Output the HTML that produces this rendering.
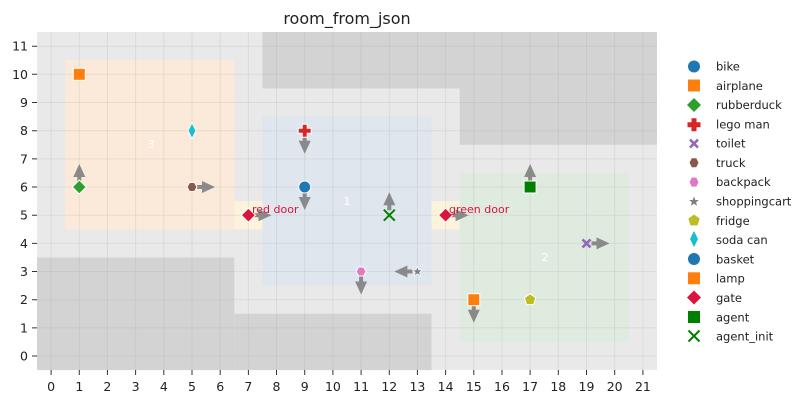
<!DOCTYPE html><html><head><style>body{margin:0;background:#fff}svg{display:block;font-family:"DejaVu Sans","Liberation Sans",sans-serif}</style></head><body>
<svg width="812" height="404" viewBox="0 0 812 404" xmlns="http://www.w3.org/2000/svg">
<defs>
<polygon id="arr" points="5,-2 10,-2 10,-6 23,0 10,6 10,2 5,2" fill="#808080" fill-opacity="0.9"/>
</defs>
<text x="347" y="24" font-size="16" text-anchor="middle" fill="#222">room_from_json</text>
<rect x="37" y="32" width="620" height="338" fill="#e9e9e9"/>
<g transform="translate(51.09,356.04) scale(28.18,-28.17)">
<rect x="7.5" y="9.5" width="14" height="2" fill="#d3d3d3"/>
<rect x="14.5" y="7.5" width="7" height="2" fill="#d3d3d3"/>
<rect x="-0.5" y="-0.5" width="7" height="4" fill="#d3d3d3"/>
<rect x="6.5" y="-0.5" width="7" height="2" fill="#d3d3d3"/>
<rect x="0.5" y="4.5" width="6" height="6" fill="#fbe9d9"/>
<rect x="7.5" y="2.5" width="6" height="6" fill="#dfe6ee"/>
<rect x="14.5" y="0.5" width="6" height="6" fill="#e0ebdf"/>
<rect x="6.5" y="4.5" width="1" height="1" fill="#fcf3dc"/>
<rect x="13.5" y="4.5" width="1" height="1" fill="#fcf3dc"/>
</g>
<g stroke="#999" stroke-opacity="0.18" stroke-width="1">
<path d="M51.1 32V370M79.3 32V370M107.4 32V370M135.6 32V370M163.8 32V370M192 32V370M220.2 32V370M248.4 32V370M276.5 32V370M304.7 32V370M332.9 32V370M361.1 32V370M389.3 32V370M417.4 32V370M445.6 32V370M473.8 32V370M502 32V370M530.1 32V370M558.3 32V370M586.5 32V370M614.7 32V370M642.9 32V370"/>
<path d="M37 356H657M37 327.9H657M37 299.7H657M37 271.5H657M37 243.4H657M37 215.2H657M37 187H657M37 158.9H657M37 130.7H657M37 102.5H657M37 74.3H657M37 46.2H657"/>
</g>
<g stroke="#333" stroke-width="1">
<path d="M51.1 370v5M79.3 370v5M107.4 370v5M135.6 370v5M163.8 370v5M192 370v5M220.2 370v5M248.4 370v5M276.5 370v5M304.7 370v5M332.9 370v5M361.1 370v5M389.3 370v5M417.4 370v5M445.6 370v5M473.8 370v5M502 370v5M530.1 370v5M558.3 370v5M586.5 370v5M614.7 370v5M642.9 370v5"/>
<path d="M37 356h-5M37 327.9h-5M37 299.7h-5M37 271.5h-5M37 243.4h-5M37 215.2h-5M37 187h-5M37 158.9h-5M37 130.7h-5M37 102.5h-5M37 74.3h-5M37 46.2h-5"/>
</g>
<g font-size="12.5" fill="#222" text-anchor="middle">
<text x="51.1" y="391">0</text><text x="79.3" y="391">1</text><text x="107.4" y="391">2</text><text x="135.6" y="391">3</text><text x="163.8" y="391">4</text><text x="192" y="391">5</text><text x="220.2" y="391">6</text><text x="248.4" y="391">7</text><text x="276.5" y="391">8</text><text x="304.7" y="391">9</text><text x="332.9" y="391">10</text><text x="361.1" y="391">11</text><text x="389.3" y="391">12</text><text x="417.4" y="391">13</text><text x="445.6" y="391">14</text><text x="473.8" y="391">15</text><text x="502" y="391">16</text><text x="530.1" y="391">17</text><text x="558.3" y="391">18</text><text x="586.5" y="391">19</text><text x="614.7" y="391">20</text><text x="642.9" y="391">21</text>
</g>
<g font-size="12.5" fill="#222" text-anchor="end">
<text x="28" y="360.5">0</text><text x="28" y="332.4">1</text><text x="28" y="304.2">2</text><text x="28" y="276">3</text><text x="28" y="247.9">4</text><text x="28" y="219.7">5</text><text x="28" y="191.5">6</text><text x="28" y="163.4">7</text><text x="28" y="135.2">8</text><text x="28" y="107">9</text><text x="28" y="78.8">10</text><text x="28" y="50.7">11</text>
</g>
<g font-size="11" fill="#fff" text-anchor="middle">
<text x="151" y="148">3</text><text x="347" y="205">1</text><text x="545" y="261">2</text>
</g>
<use href="#arr" transform="translate(79.3,187) rotate(-90)"/>
<use href="#arr" transform="translate(192,187)"/>
<use href="#arr" transform="translate(304.7,187) rotate(90)"/>
<use href="#arr" transform="translate(304.7,130.7) rotate(90)"/>
<use href="#arr" transform="translate(248.4,215.2)"/>
<use href="#arr" transform="translate(445.6,215.2)"/>
<use href="#arr" transform="translate(389.3,215.2) rotate(-90)"/>
<use href="#arr" transform="translate(361.1,271.5) rotate(90)"/>
<use href="#arr" transform="translate(417.4,271.5) rotate(180)"/>
<use href="#arr" transform="translate(473.8,299.7) rotate(90)"/>
<use href="#arr" transform="translate(530.1,187) rotate(-90)"/>
<use href="#arr" transform="translate(586.5,243.4)"/>
<g stroke="#fff" stroke-width="1">
<rect x="73.3" y="68.3" width="12" height="12" fill="#ff7f0e"/>
<polygon points="79.3,180 86.3,187 79.3,194 72.3,187" fill="#2ca02c"/>
<polygon points="192,122.7 196,130.7 192,138.7 188,130.7" fill="#17becf"/>
<polygon points="187,187 189.5,182.5 194.5,182.5 197,187 194.5,191.5 189.5,191.5" fill="#8c564b"/>
<circle cx="304.7" cy="187" r="6" fill="#1f77b4"/>
<path d="M302.2 124.2h5v4h4v5h-4v4h-5v-4h-4v-5h4z" fill="#d62728"/>
<polygon points="248.4,208.2 255.4,215.2 248.4,222.2 241.4,215.2" fill="#dc143c"/>
<polygon points="445.6,208.2 452.6,215.2 445.6,222.2 438.6,215.2" fill="#dc143c"/>
<polygon points="356.1,271.5 358.6,267 363.6,267 366.1,271.5 363.6,276 358.6,276" fill="#e377c2"/>
<polygon points="417.4,266.5 418.7,270 422.2,270 419.5,272.3 420.5,275.8 417.4,273.7 414.3,275.8 415.3,272.3 412.6,270 416.1,270" fill="#7f7f7f" stroke-width="0.6"/>
<rect x="467.8" y="293.7" width="12" height="12" fill="#ff7f0e"/>
<polygon points="530.1,293.7 535.8,297.8 533.6,304.6 526.6,304.6 524.4,297.8" fill="#bcbd22"/>
<rect x="524.1" y="181" width="12" height="12" fill="#008000"/>
</g>
<path d="M383.8 209.7l11 11M394.8 209.7l-11 11" stroke="#008000" stroke-width="2"/>
<path d="M582.5 239.4l8 8M590.5 239.4l-8 8" stroke="#9467bd" stroke-width="2.6"/>
<g font-size="11" fill="#dc143c"><text x="252" y="213">red door</text><text x="449" y="213">green door</text></g>
<g font-size="11.5" fill="#222">
<circle cx="694" cy="66.5" r="6" fill="#1f77b4"/><text x="716" y="70.5">bike</text>
<rect x="688" y="79.5" width="12" height="12" fill="#ff7f0e"/><text x="716" y="89.8">airplane</text>
<polygon points="694,98 701,105 694,112 687,105" fill="#2ca02c"/><text x="716" y="109">rubberduck</text>
<path d="M691.5 118.2h5v4h4v5h-4v4h-5v-4h-4v-5h4z" fill="#d62728"/><text x="716" y="128.3">lego man</text>
<path d="M690 139.6l8 8M698 139.6l-8 8" stroke="#9467bd" stroke-width="2.6"/><text x="716" y="147.6">toilet</text>
<polygon points="689.5,162.8 691.8,158.3 696.3,158.3 698.5,162.8 696.3,167.3 691.8,167.3" fill="#8c564b"/><text x="716" y="166.9">truck</text>
<polygon points="689.5,182.1 691.8,177.6 696.3,177.6 698.5,182.1 696.3,186.6 691.8,186.6" fill="#e377c2"/><text x="716" y="186.2">backpack</text>
<polygon points="694,196.5 695.3,200 698.8,200 696.1,202.3 697.1,205.8 694,203.7 690.9,205.8 691.9,202.3 689.2,200 692.7,200" fill="#7f7f7f"/><text x="716" y="205.5">shoppingcart</text>
<polygon points="694,214.5 699.7,218.6 697.5,225.4 690.5,225.4 688.3,218.6" fill="#bcbd22"/><text x="716" y="224.8">fridge</text>
<polygon points="694,231 698,239 694,247 690,239" fill="#17becf"/><text x="716" y="244.1">soda can</text>
<circle cx="694" cy="259" r="6" fill="#1f77b4"/><text x="716" y="263.4">basket</text>
<rect x="688" y="272.3" width="12" height="12" fill="#ff7f0e"/><text x="716" y="282.7">lamp</text>
<polygon points="694,290.5 701,297.5 694,304.5 687,297.5" fill="#dc143c"/><text x="716" y="302">gate</text>
<rect x="688" y="311" width="12" height="12" fill="#008000"/><text x="716" y="321.3">agent</text>
<path d="M688.5 330.5l11 11M699.5 330.5l-11 11" stroke="#008000" stroke-width="2"/><text x="716" y="340.6">agent_init</text>
</g>
</svg>
</body></html>
